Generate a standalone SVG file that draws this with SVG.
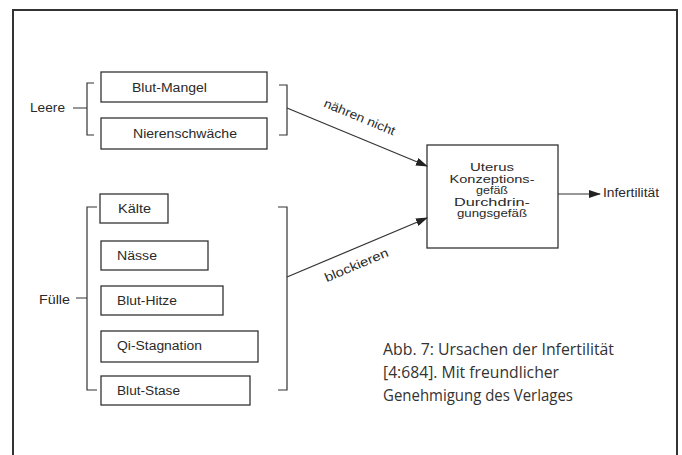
<svg xmlns="http://www.w3.org/2000/svg" width="682" height="455" viewBox="0 0 682 455">
<defs>
<style>
.frame{fill:none;stroke:#333;stroke-width:2}
.box{fill:#fff;stroke:#333;stroke-width:1.3}
.ln{fill:none;stroke:#333;stroke-width:1.2}
.t{font-family:"Liberation Sans",Arial,sans-serif;font-size:12.5px;fill:#2a2a2a}
.u{font-family:"Liberation Sans",Arial,sans-serif;font-size:11.5px;fill:#2a2a2a}
.c{font-family:"Open Sans","Noto Sans",sans-serif;font-size:16px;fill:#333}
</style>
<marker id="ah" markerWidth="12" markerHeight="8" refX="11" refY="4" orient="auto" markerUnits="userSpaceOnUse">
<path d="M0,0 L12,4 L0,8 Z" fill="#222"/>
</marker>
</defs>
<rect x="0" y="0" width="682" height="455" fill="#fff"/>
<path class="frame" d="M13,460 V10 H677 V460"/>

<g id="leere">
<text class="t" x="30" y="112" textLength="35" lengthAdjust="spacingAndGlyphs">Leere</text>
</g>
<g id="blut-mangel">
<rect class="box" x="101" y="72" width="166" height="30"/>
<text class="t" x="132" y="92" textLength="75" lengthAdjust="spacingAndGlyphs">Blut-Mangel</text>
</g>
<g id="nierenschwaeche">
<rect class="box" x="101" y="118" width="166" height="31"/>
<text class="t" x="133" y="138" textLength="104" lengthAdjust="spacingAndGlyphs">Nierenschwäche</text>
</g>

<g id="fuelle">
<text class="t" x="39" y="304" textLength="31" lengthAdjust="spacingAndGlyphs">Fülle</text>
</g>
<g id="kaelte">
<rect class="box" x="100" y="194" width="68" height="29"/>
<text class="t" x="118" y="213" textLength="33" lengthAdjust="spacingAndGlyphs">Kälte</text>
</g>
<g id="naesse">
<rect class="box" x="101" y="241" width="107" height="29"/>
<text class="t" x="117" y="260" textLength="40" lengthAdjust="spacingAndGlyphs">Nässe</text>
</g>
<g id="blut-hitze">
<rect class="box" x="101" y="286" width="122" height="29"/>
<text class="t" x="117" y="305" textLength="60" lengthAdjust="spacingAndGlyphs">Blut-Hitze</text>
</g>
<g id="qi-stagnation">
<rect class="box" x="101" y="331" width="157" height="31"/>
<text class="t" x="117" y="350" textLength="85" lengthAdjust="spacingAndGlyphs">Qi-Stagnation</text>
</g>
<g id="blut-stase">
<rect class="box" x="101" y="376" width="149" height="29"/>
<text class="t" x="117" y="395" textLength="63" lengthAdjust="spacingAndGlyphs">Blut-Stase</text>
</g>

<g id="uterus">
<rect class="box" x="427" y="145" width="131" height="103"/>
<text class="u" x="492" y="171" text-anchor="middle" textLength="44" lengthAdjust="spacingAndGlyphs">Uterus</text>
<text class="u" x="492" y="182.5" text-anchor="middle" textLength="85" lengthAdjust="spacingAndGlyphs">Konzeptions-</text>
<text class="u" x="492" y="194" text-anchor="middle" textLength="32" lengthAdjust="spacingAndGlyphs">gefäß</text>
<text class="u" x="492" y="205.5" text-anchor="middle" textLength="76" lengthAdjust="spacingAndGlyphs">Durchdrin-</text>
<text class="u" x="492" y="217" text-anchor="middle" textLength="70" lengthAdjust="spacingAndGlyphs">gungsgefäß</text>
</g>
<g id="infertilitaet">
<text class="t" x="603" y="197" textLength="56" lengthAdjust="spacingAndGlyphs">Infertilität</text>
</g>

<g id="connectors">
<path class="ln" d="M73,108 H87 M94,83 H87 V135 H94"/>
<path class="ln" d="M279,85 H287 V135 H279"/>
<path class="ln" d="M76,298 H87 M97,207 H87 V390 H97"/>
<path class="ln" d="M278,207 H287 V390 H278"/>
<path class="ln" d="M287,108 L427,166" marker-end="url(#ah)"/>
<path class="ln" d="M287,277 L427,218" marker-end="url(#ah)"/>
<path class="ln" d="M558,194 L600,194" marker-end="url(#ah)"/>
<text class="t" x="0" y="0" text-anchor="middle" transform="translate(358,121) rotate(22.5)" textLength="76" lengthAdjust="spacingAndGlyphs">nähren nicht</text>
<text class="t" x="0" y="0" text-anchor="middle" transform="translate(358,269) rotate(-22.8)" textLength="68" lengthAdjust="spacingAndGlyphs">blockieren</text>
</g>

<g id="caption">
<text class="c" x="383" y="355" textLength="231" lengthAdjust="spacingAndGlyphs">Abb. 7: Ursachen der Infertilität</text>
<text class="c" x="383" y="378" textLength="176" lengthAdjust="spacingAndGlyphs">[4:684]. Mit freundlicher</text>
<text class="c" x="383" y="401" textLength="190" lengthAdjust="spacingAndGlyphs">Genehmigung des Verlages</text>
</g>
</svg>
